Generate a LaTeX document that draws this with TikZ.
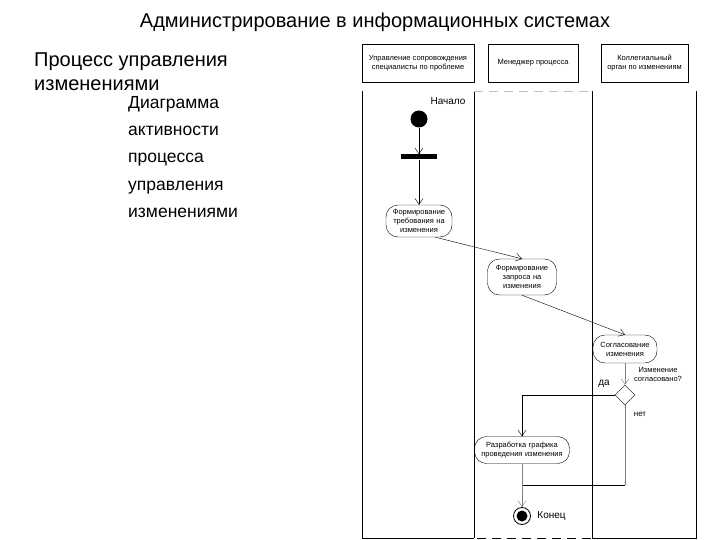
\documentclass[tikz,border=0pt]{standalone}
\usepackage{fontspec}
\setmainfont{Liberation Sans}
\usetikzlibrary{arrows,arrows.meta,shapes.geometric}
\usetikzlibrary{positioning}
\newcommand{\tinyfont}{\fontsize{7.5}{9}\selectfont}
\tikzset{
    activity/.style={
           rectangle,
           rounded corners=12pt,
           draw=black, thin,
           align=center,
           inner sep=3pt,
           font=\tinyfont,
           },
    lanehead/.style={
           rectangle,
           draw=black, thin,
           minimum height=38pt,
           align=center,
           font=\tinyfont,
           },
    decision/.style={
           diamond,
           draw=black, thin,
           minimum width=20pt,
           minimum height=20pt,
           inner sep=0pt,
           },
    lane/.style={-, line width=0.6pt},
}

\begin{document}
\begin{tikzpicture}[x=1pt,y=-1pt,->,>={Straight Barb[length=6pt,width=8pt]}]

 \useasboundingbox (0,0) rectangle (720,540);

 % Title and text on the left
 \node[font=\fontsize{20}{22}\selectfont] (Title) at (375,22)
  {Администрирование в информационных системах};
 \node[anchor=north west, inner sep=0pt, align=left,
  font=\fontsize{20}{23.5}\selectfont] (Process) at (34,53)
  {Процесс управления\\изменениями};
 \node[anchor=north west, inner sep=0pt, align=left,
  font=\fontsize{17.5}{27.3}\selectfont] (Caption) at (128,96)
  {Диаграмма\\активности\\процесса\\управления\\изменениями};

 % Swimlane heads
 \node[lanehead, minimum width=112pt] (Head Specialist) at (418,63)
  {Управление сопровождения\\специалисты по проблеме};
 \node[lanehead, minimum width=90pt] (Head Manager) at (533,63)
  {Менеджер процесса};
 \node[lanehead, minimum width=87pt] (Head Board) at (644.5,63)
  {Коллегиальный\\орган по изменениям};

 % Swimlane borders
 \draw[lane] (362,91) -- (362,538) -- (474,538);
 \draw[lane] (474,91) -- (474,538);
 \draw[lane] (592,91) -- (592,538);
 \draw[lane] (592,538) -- (696,538) -- (696,91);
 \draw[lane, gray!50, dash pattern=on 9pt off 6pt] (474,91) -- (592,91);
 \draw[lane, dash pattern=on 9pt off 6pt] (477,538) -- (592,538);

 % Start, fork bar and activities
 \node[circle, fill=black, minimum size=17pt, inner sep=0pt] (Start) at (419,119) {};
 \node[font=\fontsize{10}{11}\selectfont] (Start Label) at (448,101) {Начало};
 \node[rectangle, fill=black, minimum width=36pt, minimum height=5pt, inner sep=0pt] (Fork) at (419,157) {};

 \node[activity, text width=60pt, minimum height=32pt] (Request) at (419,221)
  {Формирование\\требования на\\изменения};
 \node[activity, text width=63pt, minimum height=36pt] (Query) at (522,277)
  {Формирование\\запроса на\\изменения};
 \node[activity, text width=58pt, minimum height=28pt] (Approval) at (625,349)
  {Согласование\\изменения};
 \node[decision] (Approved) at (625,395) {};
 \node[activity, text width=89pt, minimum height=27pt] (Schedule) at (522,450)
  {Разработка графика\\проведения изменения};

 % End
 \node[circle, draw=black, thick, minimum size=17pt, inner sep=0pt] (End) at (522,516) {};
 \node[circle, fill=black, minimum size=11pt, inner sep=0pt] (End Dot) at (End) {};
 \node[right=3pt of End, font=\fontsize{10}{11}\selectfont] (End Label) {Конец};

 % Decision labels
 \node[align=center, font=\tinyfont, inner sep=0pt] (Question) at (658,374)
  {Изменение\\согласовано?};
 \node[font=\fontsize{10}{11}\selectfont, inner sep=0pt] (Yes) at (604,384) {да};
 \node[font=\fontsize{8}{9}\selectfont, inner sep=0pt] (No) at (640,414) {нет};

 \coordinate (Merge) at (522,485);

 % Flows
 \path (Start)          edge                   (Fork)
       (Fork)           edge                   (Request)
       (Request.-45)    edge                   (Query.north)
       (Query.south)    edge                   (Approval.north)
       (Approval)       edge[gray]             (Approved);
 \draw (Approved.west) -| (Schedule.north);
 \draw[-, gray] (Approved.south) -- (Approved.south |- Merge);
 \draw[-] (Approved.south |- Merge) -- (Merge);
 \draw[gray] (Schedule.south) -- (End);

\end{tikzpicture}
\end{document}
